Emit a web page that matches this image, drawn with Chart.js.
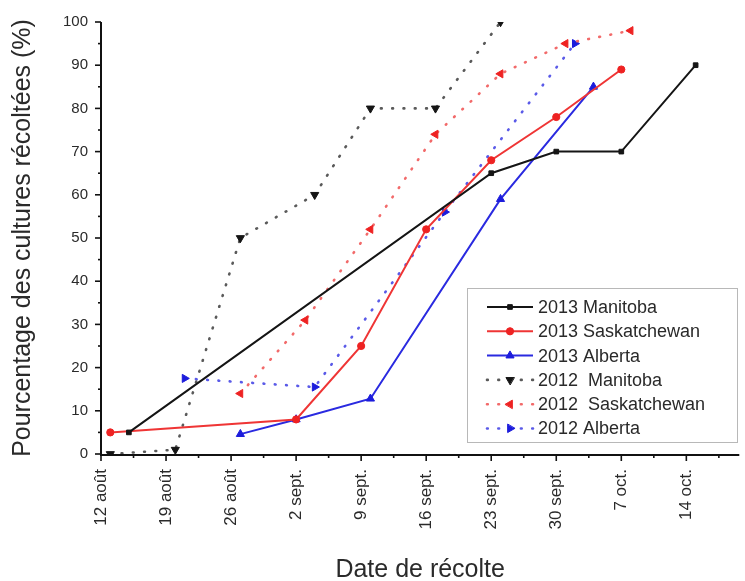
<!DOCTYPE html>
<html lang="fr">
<head>
  <meta charset="UTF-8">
  <title>Date de récolte</title>
  <script src="https://cdn.jsdelivr.net/npm/chart.js"></script>
  <style>
    body { margin: 0; background: #fff; }
    #wrap { width: 745px; height: 581px; }
  </style>
</head>
<body>
  <div id="wrap"><canvas id="harvest" width="745" height="581"></canvas></div>

  <script>
    // days counted from 12 August
    const tickLabels = ['12 août', '19 août', '26 août', '2 sept.', '9 sept.', '16 sept.', '23 sept.', '30 sept.', '7 oct.', '14 oct.'];
    const tickDays = [0, 7, 14, 21, 28, 35, 42, 49, 56, 63];

    const labels = ['2013 Manitoba', '2013 Saskatchewan', '2013 Alberta', '2012  Manitoba', '2012  Saskatchewan', '2012 Alberta'];

    const man13Days = [3, 42, 49, 56, 64];
    const man13 = [5, 65, 70, 70, 90];
    const sask13Days = [1, 21, 28, 35, 42, 49, 56];
    const sask13 = [5, 8, 25, 52, 68, 78, 89];
    const alb13Days = [15, 21, 29, 43, 53];
    const alb13 = [4.6, 8, 12.8, 59, 85];
    const man12Days = [1, 8, 15, 23, 29, 36, 43];
    const man12 = [0, 1, 50, 60, 80, 80, 100];
    const sask12Days = [15, 22, 29, 36, 43, 50, 57];
    const sask12 = [14, 31, 52, 74, 88, 95, 98];
    const alb12Days = [9, 23, 37, 51];
    const alb12 = [17.5, 15.5, 56, 95];

    function pts(days, vals) {
      return days.map((d, i) => ({ x: d, y: vals[i] }));
    }

    function series(label, days, vals, color, dotColor, style, rot, dotted, r) {
      return {
        label: label,
        data: pts(days, vals),
        borderColor: dotColor,
        backgroundColor: color,
        pointBackgroundColor: color,
        pointBorderColor: color,
        pointBorderWidth: 1,
        pointStyle: style,
        pointRotation: rot,
        pointRadius: r,
        borderWidth: dotted ? 2.6 : 2,
        borderDash: dotted ? [0.8, 10.5] : [],
        borderCapStyle: dotted ? 'round' : 'butt',
        tension: 0,
        fill: false
      };
    }

    // axis ticks, major and minor, drawn from the scales
    const tickMarks = {
      id: 'tickMarks',
      afterDraw(chart) {
        const c = chart.ctx, x = chart.scales.x, y = chart.scales.y;
        c.save();
        c.strokeStyle = '#111';
        c.lineWidth = 2;
        c.beginPath();
        c.moveTo(x.left, y.top);
        c.lineTo(x.left, y.bottom + 1);
        c.lineTo(x.right, y.bottom + 1);
        c.stroke();
        c.lineWidth = 1.6;
        for (let d = 0; d <= x.max; d += 3.5) {
          const px = x.getPixelForValue(d);
          const len = d % 7 === 0 ? 7 : 4;
          c.beginPath();
          c.moveTo(px, y.bottom);
          c.lineTo(px, y.bottom + len);
          c.stroke();
        }
        for (let v = 0; v <= 100; v += 5) {
          const py = y.getPixelForValue(v);
          const len = v % 10 === 0 ? 6 : 3;
          c.beginPath();
          c.moveTo(x.left - len, py);
          c.lineTo(x.left, py);
          c.stroke();
        }
        c.restore();
      }
    };

    // boxed legend inside the plot, lower right
    const legendBox = {
      id: 'legendBox',
      afterDatasetsDraw(chart) {
        const c = chart.ctx;
        const left = 467, top = 288, w = 270, h = 154, row = 24.3;
        c.save();
        c.fillStyle = '#fff';
        c.fillRect(left, top, w, h);
        c.strokeStyle = '#b8b8b8';
        c.lineWidth = 1;
        c.strokeRect(left + 0.5, top + 0.5, w, h);
        chart.data.datasets.forEach((ds, i) => {
          const cy = top + 19 + i * row;
          c.strokeStyle = ds.borderColor;
          c.lineWidth = ds.borderWidth;
          c.setLineDash(ds.borderDash);
          c.lineCap = ds.borderCapStyle;
          c.beginPath();
          c.moveTo(left + 20, cy);
          c.lineTo(left + 66, cy);
          c.stroke();
          c.setLineDash([]);
          c.fillStyle = ds.pointBackgroundColor;
          c.strokeStyle = ds.pointBorderColor;
          c.lineWidth = 1;
          Chart.helpers.drawPoint(c, { pointStyle: ds.pointStyle, rotation: ds.pointRotation, radius: ds.pointRadius, borderWidth: 1 }, left + 43, cy);
          c.fillStyle = '#2a2a2a';
          c.font = '18px "Liberation Sans", Arial, sans-serif';
          c.textBaseline = 'middle';
          c.fillText(ds.label, left + 71, cy + 1);
        });
        c.restore();
      }
    };

    Chart.defaults.font.family = '"Liberation Sans", Arial, sans-serif';
    Chart.defaults.color = '#2a2a2a';

    new Chart(document.getElementById('harvest'), {
      type: 'line',
      data: {
        datasets: [
          series(labels[0], man13Days, man13, '#151515', '#151515', 'rect', 0, false, 3.3),
          series(labels[1], sask13Days, sask13, '#ee2222', '#ef3535', 'circle', 0, false, 3.6),
          series(labels[2], alb13Days, alb13, '#1c1cdc', '#2a2ae0', 'triangle', 0, false, 4.7),
          series(labels[3], man12Days, man12, '#151515', '#5a5a5a', 'triangle', 180, true, 4.7),
          series(labels[4], sask12Days, sask12, '#ee2222', '#f26a6a', 'triangle', -90, true, 4.7),
          series(labels[5], alb12Days, alb12, '#1c1cdc', '#5a5ae8', 'triangle', 90, true, 4.7)
        ]
      },
      options: {
        responsive: false,
        animation: false,
        layout: { padding: { top: 17, right: 0, left: 0, bottom: 0 } },
        plugins: {
          legend: { display: false },
          tooltip: { enabled: false }
        },
        scales: {
          x: {
            type: 'linear',
            min: 0,
            max: 68.7,
            grid: { display: false, drawTicks: false },
            border: { display: false },
            afterBuildTicks: s => { s.ticks = tickDays.map(v => ({ value: v })); },
            afterFit: s => { s.height = 127; },
            ticks: {
              autoSkip: false,
              minRotation: 90,
              maxRotation: 90,
              padding: 15,
              font: { size: 17 },
              callback: (v) => tickLabels[tickDays.indexOf(v)]
            },
            title: {
              display: true,
              text: 'Date de récolte',
              font: { size: 25 },
              padding: { top: 0, bottom: -4 }
            }
          },
          y: {
            min: 0,
            max: 100,
            grid: { display: false, drawTicks: false },
            border: { display: false },
            afterFit: s => { s.width = 101; },
            ticks: { stepSize: 10, padding: 13, font: { size: 15 } },
            title: {
              display: true,
              text: 'Pourcentage des cultures récoltées (%)',
              font: { size: 25 },
              padding: { top: 8, bottom: 0 }
            }
          }
        }
      },
      plugins: [tickMarks, legendBox]
    });
  </script>
</body>
</html>
